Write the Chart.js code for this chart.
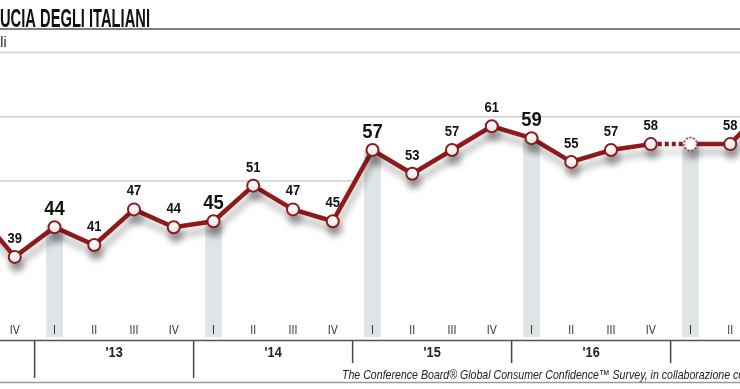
<!DOCTYPE html>
<html>
<head>
<meta charset="utf-8">
<script src="https://cdn.jsdelivr.net/npm/chart.js@4"></script>
<style>
  html, body { margin: 0; padding: 0; background: #fff; overflow: hidden; width: 740px; height: 389px; }
  #wrap { position: absolute; left: -40px; top: 0; width: 830px; height: 389px; }
</style>
</head>
<body>
<div id="wrap"><canvas id="c" width="830" height="389"></canvas></div>
<script>
// dati trimestrali (il primo e l'ultimo punto escono dal riquadro)
const trimestri = ['III', 'IV', 'I', 'II', 'III', 'IV', 'I', 'II', 'III', 'IV', 'I', 'II', 'III', 'IV', 'I', 'II', 'III', 'IV', 'I', 'II', 'III'];
const anni = ["'12", "'12", "'13", "'13", "'13", "'13", "'14", "'14", "'14", "'14", "'15", "'15", "'15", "'15", "'16", "'16", "'16", "'16", "'17", "'17", "'17"];
const fiducia = [47, 39, 44, 41, 47, 44, 45, 51, 47, 45, 57, 53, 57, 61, 59, 55, 57, 58, 58, 58, 65];
const stime = ["I '17"];          // valore non rilevato, segnato tratteggiato
const griglia = [62.6, 51.8];
const titolo = 'FIDUCIA DEGLI ITALIANI';
const sottotitolo = 'Dati trimestrali';
const fonte = 'The Conference Board® Global Consumer Confidence™ Survey, in collaborazione con Nielsen';

const ROSSO = '#8e1a1c';
const SANS = '"Liberation Sans", Arial, sans-serif';
const OFF = 40;   // il canvas parte 40px a sinistra della pagina
const BASE = 25.5;

const labels = trimestri.map((q, i) => q + ' ' + anni[i]);
const isStima = i => stime.includes(labels[i]);
const bande = trimestri.map((q, i) => q === 'I' ? [BASE, fiducia[i]] : null);

// testo stretto (non c'e' un font condensed installato)
function testo(ctx, t, x, y, sx, align) {
  ctx.save();
  ctx.translate(x, y);
  ctx.scale(sx, 1);
  ctx.textAlign = align || 'center';
  ctx.fillText(t, 0, 0);
  ctx.restore();
}

// punto tratteggiato per il valore stimato
const puntoStima = document.createElement('canvas');
puntoStima.width = 18; puntoStima.height = 18;
(() => {
  const p = puntoStima.getContext('2d');
  p.beginPath();
  p.arc(9, 9, 6.5, 0, Math.PI * 2);
  p.fillStyle = '#fff';
  p.fill();
  p.setLineDash([2, 1.6]);
  p.lineWidth = 1.6;
  p.strokeStyle = ROSSO;
  p.stroke();
})();

const sfondo = {
  id: 'sfondo',
  beforeDatasetsDraw(chart) {
    const { ctx, scales: { x, y } } = chart;
    ctx.save();
    ctx.strokeStyle = '#cfcfcf';
    ctx.lineWidth = 1.5;
    griglia.forEach((v, k) => {
      const py = y.getPixelForValue(v);
      // la seconda linea si ferma all'inizio del 2015
      const fine = k === 1 ? (x.getPixelForValue(9) + x.getPixelForValue(10)) / 2 : OFF + 740;
      ctx.beginPath();
      ctx.moveTo(OFF, py);
      ctx.lineTo(fine, py);
      ctx.stroke();
    });
    ctx.restore();
  }
};

const ombra = {
  id: 'ombra',
  beforeDatasetDraw(chart, args) {
    if (args.index !== 1) return;
    const ctx = chart.ctx;
    ctx.save();
    ctx.shadowColor = 'rgba(0,0,0,0.32)';
    ctx.shadowBlur = 7;
    ctx.shadowOffsetX = 2;
    ctx.shadowOffsetY = 8;
  },
  afterDatasetDraw(chart, args) {
    if (args.index !== 1) return;
    chart.ctx.restore();
  }
};

const etichette = {
  id: 'etichette',
  afterDatasetsDraw(chart) {
    const ctx = chart.ctx;
    const meta = chart.getDatasetMeta(1);
    ctx.save();
    ctx.fillStyle = '#111';
    ctx.textBaseline = 'alphabetic';
    meta.data.forEach((pt, i) => {
      if (isStima(i)) return;
      const big = trimestri[i] === 'I';
      ctx.font = 'bold ' + (big ? 20.5 : 15.5) + 'px ' + SANS;
      testo(ctx, String(fiducia[i]), pt.x, pt.y - (big ? 12 : 14), big ? 0.9 : 0.84);
    });
    ctx.restore();
  }
};

const cornice = {
  id: 'cornice',
  afterDraw(chart) {
    const { ctx, scales: { x } } = chart;
    ctx.save();

    // titolo
    ctx.fillStyle = '#111';
    ctx.font = 'bold 26px ' + SANS;
    const vis = titolo.slice(titolo.indexOf('UCIA'));
    testo(ctx, titolo, OFF + 150, 26.5, 150 / ctx.measureText(vis).width, 'right');

    ctx.strokeStyle = '#808080';
    ctx.lineWidth = 2;
    ctx.beginPath(); ctx.moveTo(OFF, 29); ctx.lineTo(OFF + 740, 29); ctx.stroke();

    ctx.font = '14px ' + SANS;
    ctx.fillStyle = '#222';
    testo(ctx, sottotitolo, OFF + 6.5, 46.5, 1, 'right');

    ctx.strokeStyle = '#d0d0d0';
    ctx.lineWidth = 1.5;
    ctx.beginPath(); ctx.moveTo(OFF, 52.5); ctx.lineTo(OFF + 740, 52.5); ctx.stroke();

    // trimestri
    ctx.font = '12.5px ' + SANS;
    ctx.fillStyle = '#333';
    ctx.textBaseline = 'middle';
    trimestri.forEach((q, i) => testo(ctx, q, x.getPixelForValue(i), 330.5, 0.85));

    // asse
    ctx.strokeStyle = '#555';
    ctx.lineWidth = 1.5;
    ctx.beginPath(); ctx.moveTo(OFF, 340.5); ctx.lineTo(OFF + 740, 340.5); ctx.stroke();

    // separatori e anni
    const fonteX = OFF + 342;
    ctx.strokeStyle = '#444';
    trimestri.forEach((q, i) => {
      if (q !== 'I' || i === 0) return;
      const px = (x.getPixelForValue(i - 1) + x.getPixelForValue(i)) / 2;
      ctx.beginPath();
      ctx.moveTo(px, 341);
      ctx.lineTo(px, px < fonteX - 4 ? 378 : 363);
      ctx.stroke();
    });
    ctx.font = 'bold 15px ' + SANS;
    ctx.fillStyle = '#222';
    [...new Set(anni)].forEach(a => {
      const i = anni.indexOf(a);
      const idxI = i - ['I', 'II', 'III', 'IV'].indexOf(trimestri[i]);
      testo(ctx, a, x.getPixelForValue(idxI + 1.5), 353, 0.85);
    });

    // fonte
    ctx.font = 'italic 13px ' + SANS;
    ctx.textBaseline = 'alphabetic';
    ctx.fillStyle = '#222';
    testo(ctx, fonte, fonteX, 379, 0.815, 'left');

    ctx.strokeStyle = '#9a9a9a';
    ctx.lineWidth = 1.5;
    ctx.beginPath(); ctx.moveTo(OFF, 382.5); ctx.lineTo(OFF + 740, 382.5); ctx.stroke();

    ctx.restore();
  }
};

new Chart(document.getElementById('c').getContext('2d'), {
  type: 'bar',
  data: {
    labels: labels,
    datasets: [
      {
        type: 'bar',
        data: bande,
        backgroundColor: '#dfe4e7',
        borderWidth: 0,
        barThickness: 16,
        order: 2
      },
      {
        type: 'line',
        data: fiducia,
        borderColor: ROSSO,
        borderWidth: 4.5,
        tension: 0,
        fill: false,
        clip: false,
        pointRadius: 6,
        pointBorderWidth: 2,
        pointBackgroundColor: '#fff',
        pointBorderColor: ROSSO,
        pointStyle: ctx => isStima(ctx.dataIndex) ? puntoStima : 'circle',
        segment: {
          borderDash: ctx => isStima(ctx.p1DataIndex) ? [4, 3] : undefined
        },
        order: 1
      }
    ]
  },
  options: {
    responsive: false,
    animation: false,
    layout: { padding: { left: 15, right: 20, top: 61, bottom: 49 } },
    plugins: {
      legend: { display: false },
      tooltip: { enabled: false }
    },
    scales: {
      x: { type: 'category', offset: false, display: false },
      y: { min: 25, max: 72, display: false }
    }
  },
  plugins: [sfondo, ombra, etichette, cornice]
});
</script>
</body>
</html>
